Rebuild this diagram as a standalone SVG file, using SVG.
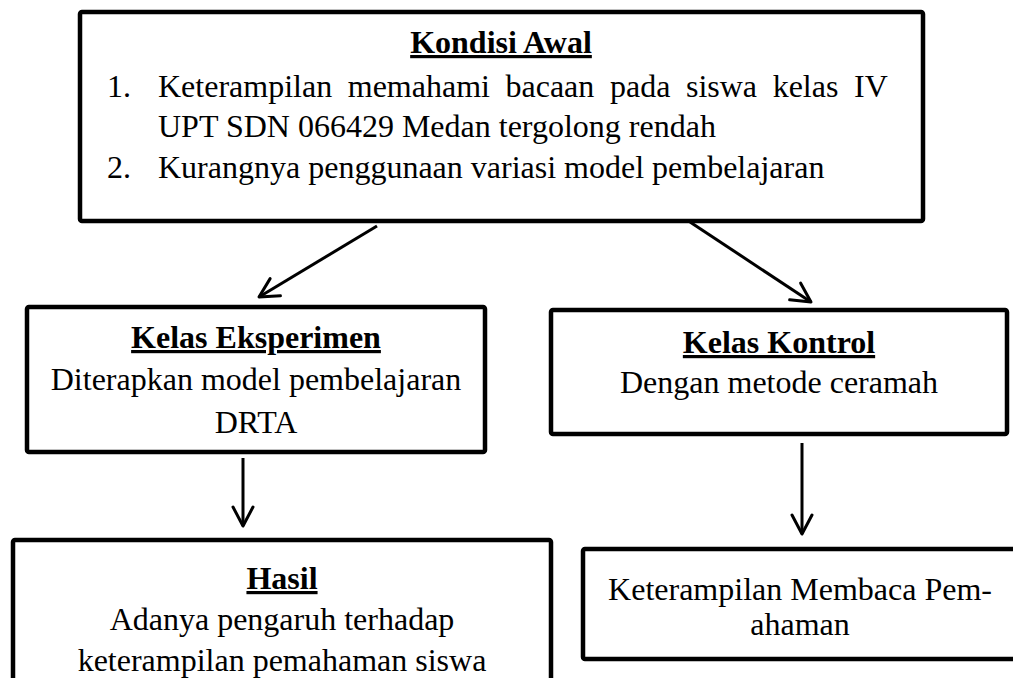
<svg xmlns="http://www.w3.org/2000/svg" width="1013" height="678" viewBox="0 0 1013 678">
<defs>
<marker id="arr" viewBox="0 0 24 24" refX="21" refY="12" markerWidth="24" markerHeight="24" markerUnits="userSpaceOnUse" orient="auto">
<path d="M2,2 L21,12 L2,22" fill="none" stroke="#000" stroke-width="3" stroke-linecap="round" stroke-linejoin="round"/>
</marker>
</defs>
<rect width="1013" height="678" fill="#fff"/>
<g id="connectors" stroke="#000" stroke-width="3" fill="none" marker-end="url(#arr)">
<line x1="377" y1="226" x2="259" y2="297"/>
<line x1="690" y1="222" x2="811" y2="302"/>
<line x1="243" y1="458" x2="243" y2="526"/>
<line x1="802" y1="443" x2="802" y2="534"/>
</g>
<g id="kondisi-awal" font-family="Liberation Serif" font-size="32" fill="#000">
<rect x="80" y="12" width="843" height="209" rx="2" fill="#fff" stroke="#000" stroke-width="4.5"/>
<text x="501" y="53" text-anchor="middle" font-weight="bold" text-decoration="underline">Kondisi Awal</text>
<text x="107" y="97">1.</text>
<text x="158" y="97" word-spacing="7.6">Keterampilan memahami bacaan pada siswa kelas IV</text>
<text x="158" y="137">UPT SDN 066429 Medan tergolong rendah</text>
<text x="107" y="178">2.</text>
<text x="158" y="178">Kurangnya penggunaan variasi model pembelajaran</text>
</g>
<g id="kelas-eksperimen" font-family="Liberation Serif" font-size="32" fill="#000" text-anchor="middle">
<rect x="27" y="307" width="458" height="145" rx="2" fill="#fff" stroke="#000" stroke-width="4.5"/>
<text x="256" y="348" font-weight="bold" text-decoration="underline">Kelas Eksperimen</text>
<text x="256" y="390">Diterapkan model pembelajaran</text>
<text x="256" y="433">DRTA</text>
</g>
<g id="kelas-kontrol" font-family="Liberation Serif" font-size="32" fill="#000" text-anchor="middle">
<rect x="551" y="310" width="456" height="124" rx="2" fill="#fff" stroke="#000" stroke-width="4.5"/>
<text x="779" y="353" font-weight="bold" text-decoration="underline">Kelas Kontrol</text>
<text x="779" y="393">Dengan metode ceramah</text>
</g>
<g id="hasil" font-family="Liberation Serif" font-size="32" fill="#000" text-anchor="middle">
<rect x="13" y="540" width="538" height="160" rx="2" fill="#fff" stroke="#000" stroke-width="4.5"/>
<text x="282" y="589" font-weight="bold" text-decoration="underline">Hasil</text>
<text x="282" y="630">Adanya pengaruh terhadap</text>
<text x="282" y="671">keterampilan pemahaman siswa</text>
</g>
<g id="keterampilan-membaca" font-family="Liberation Serif" font-size="32" fill="#000" text-anchor="middle">
<rect x="583" y="549" width="450" height="110" rx="2" fill="#fff" stroke="#000" stroke-width="4.5"/>
<text x="800" y="600">Keterampilan Membaca Pem-</text>
<text x="800" y="635">ahaman</text>
</g>
</svg>
